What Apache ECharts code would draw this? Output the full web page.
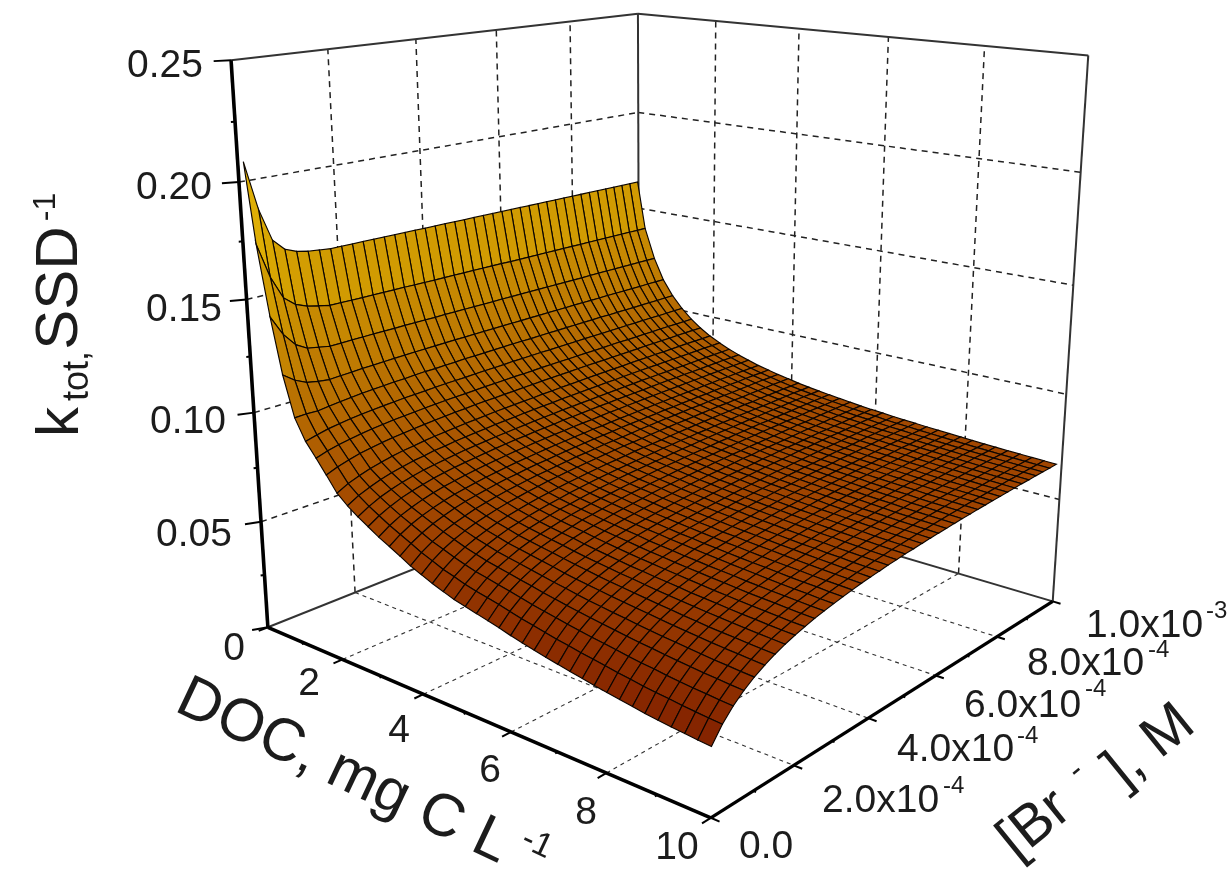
<!DOCTYPE html>
<html><head><meta charset="utf-8"><style>html,body{margin:0;padding:0;background:#fff}#c{width:1231px;height:876px}</style>
<script src="https://cdn.jsdelivr.net/npm/echarts@6/dist/echarts.min.js"></script></head>
<body><div id="c"></div><script>
const docValues=[0.15,0.35,0.6,0.84,1.09,1.34,1.59,1.83,2.08,2.33,2.58,2.82,3.07,3.32,3.57,3.81,4.06,4.31,4.56,4.8,5.05,5.3,5.55,5.79,6.04,6.29,6.54,6.78,7.03,7.28,7.53,7.77,8.02,8.27,8.52,8.76,9.01,9.26,9.51,9.75,10];
const brValues=[0,0.245,0.49,0.735,0.98,1.225,1.47,1.715,1.96,2.205,2.45,2.695,2.94,3.185,3.43,3.675,3.92,4.165,4.41,4.655,4.9,5.145,5.39,5.635,5.88,6.125,6.37,6.615,6.86,7.105,7.35,7.595,7.84,8.085,8.33,8.575,8.82,9.065,9.31,9.555,9.8];
const kTimes1e4=[
[2090,1880,1740,1690,1670,1660,1655,1650,1650,1650,1650,1650,1650,1650,1650,1650,1650,1650,1650,1650,1650,1650,1650,1650,1650,1650,1650,1650,1650,1650,1650,1650,1650,1650,1650,1650,1650,1650,1650,1650,1650],
[1750,1599,1498,1457,1437,1426,1416,1416,1415,1415,1415,1415,1415,1415,1414,1414,1414,1414,1414,1414,1414,1414,1414,1414,1413,1413,1413,1413,1413,1413,1413,1413,1413,1413,1413,1413,1413,1413,1413,1413,1413],
[1450,1362,1304,1275,1266,1257,1258,1259,1259,1260,1260,1260,1261,1261,1261,1261,1262,1262,1262,1262,1262,1262,1263,1263,1263,1263,1263,1263,1263,1263,1263,1263,1264,1264,1264,1264,1264,1264,1264,1264,1264],
[1210,1173,1149,1139,1133,1136,1138,1141,1142,1144,1146,1147,1148,1149,1150,1151,1152,1152,1153,1154,1154,1155,1155,1155,1156,1156,1157,1157,1157,1158,1158,1158,1158,1159,1159,1159,1159,1159,1160,1160,1160],
[1035,1037,1035,1041,1046,1051,1055,1058,1060,1063,1064,1067,1069,1069,1071,1072,1074,1074,1075,1076,1077,1078,1078,1078,1079,1080,1080,1081,1081,1082,1082,1083,1082,1083,1083,1083,1084,1084,1084,1085,1085],
[945,958,969,976,983,988,992,996,999,1002,1004,1006,1008,1010,1011,1012,1014,1015,1016,1017,1019,1019,1020,1021,1021,1022,1022,1023,1024,1024,1024,1025,1025,1026,1026,1027,1027,1027,1027,1028,1028],
[885,901,912,921,929,935,940,945,948,951,954,957,959,961,962,964,966,967,968,970,970,971,973,973,974,974,975,976,976,977,978,979,978,979,980,980,981,981,981,981,982],
[825,844,858,871,879,887,893,898,903,907,911,914,917,919,922,924,925,927,928,930,931,933,934,935,936,937,938,939,939,940,940,941,942,943,943,944,944,945,946,946,946],
[760,785,803,818,830,840,848,854,861,866,870,874,878,881,884,887,889,891,893,894,897,898,900,901,902,904,905,906,907,907,909,910,910,911,911,912,913,914,914,914,915],
[720,747,767,784,797,807,817,823,831,835,841,845,849,852,856,859,861,864,866,868,869,872,873,874,876,877,879,879,881,882,883,884,884,885,885,886,887,888,889,889,890],
[687,715,738,755,769,780,790,797,804,810,816,820,824,828,831,834,837,840,842,844,847,848,850,851,853,854,856,857,858,860,860,861,862,863,863,864,865,866,867,867,868],
[659,689,712,731,745,757,768,776,783,789,794,799,804,808,812,814,818,820,822,826,827,829,831,833,834,836,837,838,839,841,842,843,843,845,845,846,847,848,849,849,850],
[630,662,687,706,722,735,746,754,762,769,775,780,785,790,793,797,800,803,805,808,810,811,814,816,817,819,820,822,823,824,825,826,827,828,829,831,831,832,833,833,834],
[605,639,665,685,701,715,726,735,743,751,757,763,768,772,776,780,783,786,789,791,794,795,798,800,801,803,804,806,807,809,810,811,811,813,814,816,816,817,818,818,819],
[580,616,643,665,682,697,709,718,727,735,742,747,753,758,761,765,769,772,775,778,780,782,785,787,788,790,791,794,794,796,797,799,799,801,802,803,803,805,806,806,807],
[554,592,621,645,663,678,692,702,711,719,726,732,738,742,747,751,756,758,761,765,767,769,771,774,776,778,780,781,783,785,785,787,788,789,789,791,792,794,795,795,796],
[533,573,604,628,647,663,676,687,697,705,713,719,726,730,735,739,743,746,750,753,756,758,760,763,765,767,769,770,772,774,775,777,777,779,779,781,782,783,785,785,786],
[512,553,586,611,631,647,662,673,683,692,700,706,712,718,722,727,731,735,738,741,745,747,749,751,754,756,758,760,762,764,765,766,767,769,769,771,772,773,775,775,776],
[495,539,571,597,618,635,650,661,672,681,689,695,703,708,713,718,722,726,729,732,735,738,741,743,746,747,750,751,753,755,756,758,759,760,761,762,764,765,767,767,768],
[478,523,557,584,605,623,638,651,661,671,680,686,693,699,704,708,714,718,721,724,727,729,733,735,737,740,742,744,746,747,749,751,751,753,754,755,757,758,760,760,761],
[466,511,547,574,595,614,629,642,652,662,671,678,685,691,696,701,705,709,713,717,720,722,726,728,730,732,735,736,739,740,742,744,744,746,747,748,750,751,753,753,754],
[454,501,536,564,586,605,620,633,644,654,664,670,677,683,689,694,698,703,706,709,713,716,718,721,723,726,728,730,732,733,736,737,738,740,740,742,744,745,746,747,748],
[442,490,526,554,577,596,612,625,637,647,655,662,670,676,681,686,692,696,700,703,706,709,712,715,717,720,721,724,725,727,728,730,732,734,734,736,738,739,740,741,742],
[430,478,515,545,568,587,603,616,628,638,647,655,662,668,674,680,684,688,692,696,699,703,705,708,711,714,715,718,719,721,722,724,726,728,728,730,732,733,734,735,736],
[416,466,504,534,558,577,595,608,620,631,640,648,655,661,667,673,678,682,686,690,694,696,700,702,704,707,710,711,714,716,717,719,721,723,723,725,726,728,729,730,731],
[404,456,494,525,550,569,587,601,613,624,634,642,649,656,662,667,673,677,681,685,688,692,695,698,700,703,706,707,709,712,713,715,717,719,719,721,722,724,725,726,727],
[393,445,485,516,541,562,579,594,606,617,627,634,644,650,656,662,666,671,675,679,683,686,689,692,695,698,699,702,704,706,708,710,711,712,714,716,717,718,719,720,722],
[382,435,476,508,533,555,572,587,599,611,621,629,638,644,651,656,661,666,670,675,678,681,684,687,690,693,695,698,699,701,704,706,706,708,710,712,713,714,715,716,718],
[372,427,468,500,526,548,566,582,594,606,616,624,633,640,646,652,657,662,667,670,674,677,681,684,686,689,692,694,696,698,701,702,703,705,707,709,710,711,712,713,715],
[362,417,459,493,519,542,560,575,588,600,610,618,628,634,641,646,652,657,661,666,669,673,677,679,682,685,688,690,692,694,695,697,699,701,703,705,706,707,708,709,711],
[353,410,452,486,513,536,554,569,583,595,605,614,623,630,636,643,648,653,657,662,666,669,672,676,679,681,684,686,689,691,692,694,696,698,700,702,702,704,705,706,708],
[344,402,445,479,506,530,548,564,578,590,601,609,619,625,633,638,644,649,654,658,662,665,669,673,675,678,681,683,686,687,689,691,693,695,697,699,699,701,702,703,705],
[335,393,437,472,500,524,543,559,572,585,596,605,614,621,628,634,640,645,649,654,658,662,665,668,672,675,677,679,681,684,686,688,690,692,693,695,696,698,699,700,702],
[327,386,430,467,494,518,537,554,568,580,592,601,610,617,624,631,636,641,646,651,654,658,662,665,668,672,673,676,678,681,683,685,687,689,690,692,693,695,696,697,699],
[319,378,425,460,489,513,532,549,564,576,587,596,606,614,620,627,633,637,642,647,651,655,659,661,664,668,670,673,675,678,680,682,683,685,687,689,690,692,693,694,696],
[311,372,418,455,484,508,527,545,559,572,583,593,602,610,617,623,629,635,640,645,648,652,656,659,662,665,668,671,673,676,677,679,681,683,685,687,688,690,691,692,694],
[305,367,412,450,479,503,523,541,555,568,580,589,598,606,614,620,626,631,636,641,645,649,653,656,659,661,664,667,669,672,674,676,678,680,682,684,685,687,688,689,691],
[299,361,407,445,474,499,520,537,552,565,577,586,595,603,610,617,623,629,634,638,643,645,649,653,656,659,662,665,667,670,672,674,676,678,680,682,683,685,686,687,689],
[294,356,404,441,471,496,516,534,548,561,573,583,593,601,607,614,620,625,631,635,640,643,647,651,654,657,660,663,665,668,670,672,674,676,678,680,681,683,684,685,687],
[289,352,399,437,467,492,513,531,545,558,570,580,589,597,605,612,618,623,629,633,638,641,645,649,652,655,658,661,663,666,668,670,672,674,676,678,679,681,682,683,685],
[285,348,396,434,464,489,510,528,543,556,568,578,587,595,603,610,616,621,627,631,636,639,643,647,650,653,656,659,661,664,666,668,670,672,674,676,677,679,680,681,683]
];
const docTicks=[0,2,4,6,8,10];
const docMinorTicks=[1,3,5,7,9];
const brTicks=[0,2,4,6,8,10];
const brMinorTicks=[1,3,5,7,9];
const kTicks=[0,0.05,0.1,0.15,0.2,0.25];
const kMinorTicks=[0.025,0.075,0.125,0.175,0.225];
const kTickLabels=['0','0.05','0.10','0.15','0.20','0.25'];
const docTickLabels=['2','4','6','8','10'];
const brMantissas=['0.0','2.0x10','4.0x10','6.0x10','8.0x10','1.0x10'];
const brExponents=['','-4','-4','-4','-4','-3'];
const DOC_MAX=10,BR_MAX=10,K_MAX=0.25;

// camera calibration: normalised box position -> page pixel, least-squares perspective fit
const cal=[[0,0,0,268,628],[1,0,0,710,817],[1,1,0,1053,600],[0,1,0,639,478],[0,0,1,233,60],[0,1,1,638,11],[1,1,1,1089,54.5],
[.2,0,0,345,660],[.4,0,0,423,695],[.6,0,0,508,733],[.8,0,0,605,773],[1,.2,0,792,763],[1,.4,0,870,717],[1,.6,0,938,677],[1,.8,0,999,638],
[.2,1,1,715,21.5],[.4,1,1,798,27],[.6,1,1,888,35],[.8,1,1,985,45],[0,0,.8,238,182],[0,1,.8,638,117],[1,1,.2,1058,497],[1,1,.8,1080,180],[0,.2,0,355,593],[0,.2,1,329,48]];
function solveCamera(){
  const n=11,A=Array.from({length:n},()=>new Array(n+1).fill(0));
  const add=(r,t)=>{for(let i=0;i<n;i++){for(let j=0;j<n;j++)A[i][j]+=r[i]*r[j];A[i][n]+=r[i]*t;}};
  cal.forEach(([x,y,z,u,v])=>{u/=1000;v/=1000;
    add([x,y,z,1,0,0,0,0,-u*x,-u*y,-u*z],u);
    add([0,0,0,0,x,y,z,1,-v*x,-v*y,-v*z],v);});
  for(let c=0;c<n;c++){let p=c;for(let r=c+1;r<n;r++)if(Math.abs(A[r][c])>Math.abs(A[p][c]))p=r;
    [A[c],A[p]]=[A[p],A[c]];
    for(let r=0;r<n;r++){if(r===c)continue;const f=A[r][c]/A[c][c];for(let j=c;j<=n;j++)A[r][j]-=f*A[c][j];}}
  return A.map((r,i)=>r[n]/r[i]);
}
const m=solveCamera();
function proj(doc,br,k){
  const x=doc/DOC_MAX,y=br/BR_MAX,z=k/K_MAX,w=m[8]*x+m[9]*y+m[10]*z+1;
  return [1000*(m[0]*x+m[1]*y+m[2]*z+m[3])/w,1000*(m[4]*x+m[5]*y+m[6]*z+m[7])/w];
}
const series=[];
function seg(a,b,style,z){series.push({type:'line',coordinateSystem:'cartesian2d',data:[proj(...a),proj(...b)],symbol:'none',silent:true,animation:false,z:z,
  lineStyle:Object.assign({color:'#222',width:1},style)});}
const wall={width:1.5,type:[6,5],color:'#222'},floor={width:1.1,type:[4,4],color:'#333'},thin={width:2,color:'#333'},bold={width:3.6,color:'#000'},boldB={width:3.2,color:'#000'},tick={width:2,color:'#000'};
// floor and wall grids
docTicks.slice(1,-1).forEach(d=>{seg([d,0,0],[d,BR_MAX,0],floor,1);seg([d,BR_MAX,0],[d,BR_MAX,K_MAX],wall,1);});
brTicks.slice(1,-1).forEach(b=>{seg([0,b,0],[DOC_MAX,b,0],floor,1);seg([0,b,0],[0,b,K_MAX],wall,1);});
kTicks.slice(1,-1).forEach(k=>{seg([0,0,k],[0,BR_MAX,k],wall,1);seg([0,BR_MAX,k],[DOC_MAX,BR_MAX,k],wall,1);});
// thin box edges
seg([0,0,K_MAX],[0,BR_MAX,K_MAX],thin,1);seg([0,BR_MAX,K_MAX],[DOC_MAX,BR_MAX,K_MAX],thin,1);
seg([DOC_MAX,BR_MAX,K_MAX],[DOC_MAX,BR_MAX,0],thin,1);seg([0,BR_MAX,K_MAX],[0,BR_MAX,0],thin,1);
seg([0,0,0],[0,BR_MAX,0],thin,1);seg([0,BR_MAX,0],[DOC_MAX,BR_MAX,0],thin,1);
// bold axes and ticks
seg([0,0,0],[0,0,K_MAX],bold,5);seg([0,0,0],[DOC_MAX,0,0],bold,5);seg([DOC_MAX,0,0],[DOC_MAX,BR_MAX,0],boldB,5);
kTicks.forEach(k=>seg([0,0,k],[-0.12,-0.25,k],tick,5));
kMinorTicks.forEach(k=>seg([0,0,k],[-0.03,-0.06,k],tick,5));
docTicks.forEach(d=>seg([d,0,0],[d,-0.2,0],tick,5));
docMinorTicks.forEach(d=>seg([d,0,0],[d,-0.06,0],tick,5));
brTicks.forEach(b=>seg([DOC_MAX,b,0],[DOC_MAX+0.16,b,0],tick,5));
brMinorTicks.forEach(b=>seg([DOC_MAX,b,0],[DOC_MAX+0.05,b,0],tick,5));
// surface cells, back to front
const cells=[];
for(let i=0;i<docValues.length-1;i++)for(let j=brValues.length-2;j>=0;j--){
  cells.push([i,j,(kTimes1e4[i][j]+kTimes1e4[i+1][j]+kTimes1e4[i][j+1]+kTimes1e4[i+1][j+1])/4e4]);
}
series.push({type:'custom',coordinateSystem:'cartesian2d',data:cells,z:3,silent:true,animation:false,progressive:0,
  renderItem(p,api){
    const i=api.value(0),j=api.value(1);
    const v=(a,b)=>api.coord(proj(docValues[a],brValues[b],kTimes1e4[a][b]/1e4));
    return {type:'polygon',shape:{points:[v(i,j),v(i+1,j),v(i+1,j+1),v(i,j+1)]},
      style:{fill:api.visual('color'),stroke:'#0c0500',lineWidth:1.15}};
  }});
// text layout
const F='"Liberation Sans",Arial,sans-serif',TC='#1c1c1c';
const T=(text,x,y,size,align,rot,va)=>({type:'text',x,y,rotation:rot||0,z:10,silent:true,style:{text,fontSize:size,fontFamily:F,fill:TC,align:align||'center',verticalAlign:va||'middle'}});
const g=[];
const kLabelPos=[[234,649],[232,535],[226,422],[222,310],[212,188],[203,66]];
kTickLabels.forEach((s,i)=>g.push(T(s,kLabelPos[i][0],kLabelPos[i][1],39,i===0?'center':'right')));
const docLabelPos=[[309,684],[399,731],[490,771],[586,813],[677,848]];
docTickLabels.forEach((s,i)=>g.push(T(s,docLabelPos[i][0],docLabelPos[i][1],39)));
const brLabelPos=[[739,847],[822,801],[897,750],[964,706],[1027,664],[1086,626]];
const brExpPos=[null,[943,786],[1017,736],[1085,689],[1148,650],[1206,611]];
brMantissas.forEach((s,i)=>{g.push(T(s,brLabelPos[i][0],brLabelPos[i][1],39,'left'));
  if(brExpPos[i])g.push(T(brExponents[i],brExpPos[i][0],brExpPos[i][1],24,'left'));});
// axis titles
g.push(T('k',61,422,60,'center',Math.PI/2));
g.push(T('tot,',78,376,36,'center',Math.PI/2));
g.push(T('SSD',60,288,60,'center',Math.PI/2));
g.push(T('-1',46,207,32,'center',Math.PI/2));
g.push(T('DOC, mg C L',343,772,60,'center',-0.44));
g.push(T('-1',537,844,34,'center',-0.44));
g.push(T('[Br',1035,825,58,'center',0.68));
g.push(T('-',1076,771,32,'center',0.68));
g.push(T('], M',1150,747,58,'center',0.68));
const chart=echarts.init(document.getElementById('c'),null,{renderer:'canvas',width:1231,height:876});
chart.setOption({animation:false,backgroundColor:'#fff',
  grid:{left:0,top:0,right:0,bottom:0,containLabel:false},
  xAxis:{type:'value',min:0,max:1231,show:false},
  yAxis:{type:'value',min:0,max:876,inverse:true,show:false},
  visualMap:{show:false,type:'continuous',seriesIndex:series.length-1,dimension:2,min:0.02,max:0.21,
    inRange:{color:['rgb(124,26,0)','rgb(160,68,0)','rgb(188,118,2)','rgb(214,164,2)','rgb(232,188,10)']}},
  series:series,graphic:g});
</script></body></html>
